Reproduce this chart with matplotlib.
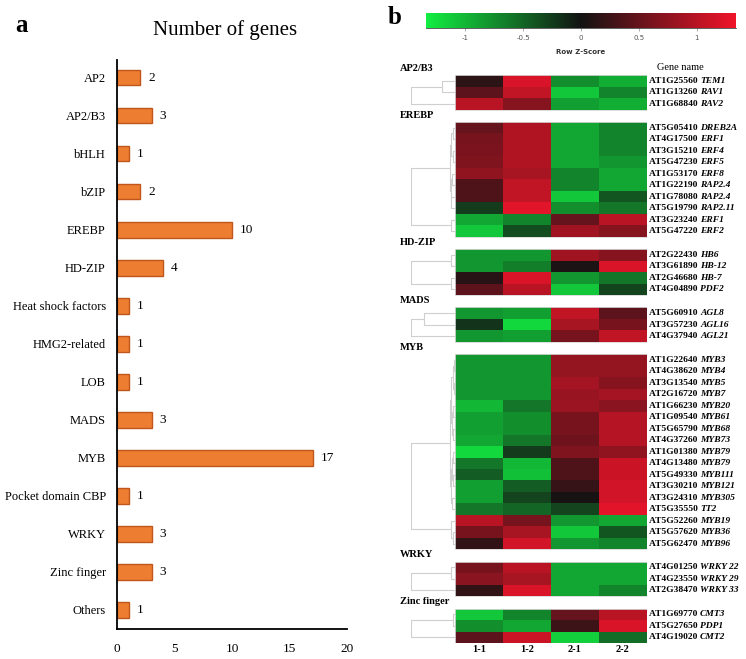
import matplotlib
matplotlib.use("Agg")
import matplotlib.pyplot as plt
import numpy as np
from matplotlib.colors import LinearSegmentedColormap

plt.rcParams['font.family'] = ['Liberation Serif', 'DejaVu Serif']

# ---------------- data: panel a ----------------
families = ["AP2", "AP2/B3", "bHLH", "bZIP", "EREBP", "HD-ZIP", "Heat shock factors",
            "HMG2-related", "LOB", "MADS", "MYB", "Pocket domain CBP", "WRKY",
            "Zinc finger", "Others"]
counts = [2, 3, 1, 2, 10, 4, 1, 1, 1, 3, 17, 1, 3, 3, 1]
xticks_a = [0, 5, 10, 15, 20]

# ---------------- data: panel b ----------------
samples = ["1-1", "1-2", "2-1", "2-2"]
groups = ["AP2/B3", "EREBP", "HD-ZIP", "MADS", "MYB", "WRKY", "Zinc finger"]
ids_ap2b3 = ["AT1G25560", "AT1G13260", "AT1G68840"]
names_ap2b3 = ["TEM1", "RAV1", "RAV2"]
z_ap2b3 = [[0.15, 1.2, -0.75, -0.95], [0.45, 1.05, -1.1, -0.7], [1.0, 0.7, -0.85, -0.95]]

ids_erebp = ["AT5G05410", "AT4G17500", "AT3G15210", "AT5G47230", "AT1G53170",
             "AT1G22190", "AT1G78080", "AT5G19790", "AT3G23240", "AT5G47220"]
names_erebp = ["DREB2A", "ERF1", "ERF4", "ERF5", "ERF8", "RAP2.4", "RAP2.4",
               "RAP2.11", "ERF1", "ERF2"]
z_erebp = [[0.5, 0.95, -0.9, -0.7], [0.6, 0.95, -0.9, -0.7], [0.62, 0.95, -0.9, -0.7],
           [0.65, 0.95, -0.9, -0.8], [0.75, 0.9, -0.7, -0.9], [0.35, 1.05, -0.7, -0.9],
           [0.35, 1.05, -1.1, -0.4], [-0.25, 1.25, -0.75, -0.6], [-0.9, -0.7, 0.5, 1.0],
           [-1.1, -0.35, 0.85, 0.7]]

ids_hdzip = ["AT2G22430", "AT3G61890", "AT2G46680", "AT4G04890"]
names_hdzip = ["HB6", "HB-12", "HB-7", "PDF2"]
z_hdzip = [[-0.8, -0.8, 0.85, 0.7], [-0.8, -0.65, 0.05, 1.2], [0.12, 1.2, -0.8, -0.6],
           [0.45, 1.0, -1.1, -0.3]]

ids_mads = ["AT5G60910", "AT3G57230", "AT4G37940"]
names_mads = ["AGL8", "AGL16", "AGL21"]
z_mads = [[-0.8, -0.85, 1.05, 0.45], [-0.2, -1.2, 0.9, 0.6], [-0.8, -0.85, 0.6, 1.05]]

ids_myb = ["AT1G22640", "AT4G38620", "AT3G13540", "AT2G16720", "AT1G66230",
           "AT1G09540", "AT5G65790", "AT4G37260", "AT1G01380", "AT4G13480",
           "AT5G49330", "AT3G30210", "AT3G24310", "AT5G35550", "AT5G52260",
           "AT5G57620", "AT5G62470"]
names_myb = ["MYB3", "MYB4", "MYB5", "MYB7", "MYB20", "MYB61", "MYB68", "MYB73",
             "MYB79", "MYB79", "MYB111", "MYB121", "MYB305", "TT2", "MYB19",
             "MYB36", "MYB96"]
z_myb = [[-0.8, -0.8, 0.78, 0.78], [-0.8, -0.8, 0.78, 0.78], [-0.8, -0.8, 0.88, 0.7],
         [-0.8, -0.8, 0.8, 0.88], [-1.0, -0.6, 0.82, 0.72], [-0.85, -0.75, 0.6, 0.98],
         [-0.85, -0.75, 0.6, 0.98], [-0.9, -0.6, 0.55, 0.98], [-1.2, -0.25, 0.65, 0.75],
         [-0.6, -1.0, 0.35, 1.1], [-0.45, -1.05, 0.35, 1.1], [-0.85, -0.45, 0.2, 1.15],
         [-0.85, -0.3, 0.03, 1.15], [-0.6, -0.5, -0.3, 1.25], [1.0, 0.6, -0.8, -0.9],
         [0.6, 0.9, -1.1, -0.4], [0.18, 1.15, -0.8, -0.7]]

ids_wrky = ["AT4G01250", "AT4G23550", "AT2G38470"]
names_wrky = ["WRKY 22", "WRKY 29", "WRKY 33"]
z_wrky = [[0.6, 1.0, -0.9, -0.9], [0.72, 0.9, -0.9, -0.9], [0.18, 1.2, -0.9, -0.7]]

ids_zinc = ["AT1G69770", "AT5G27650", "AT4G19020"]
names_zinc = ["CMT3", "PDP1", "CMT2"]
z_zinc = [[-1.1, -0.7, 0.5, 1.0], [-0.75, -0.9, 0.25, 1.2], [0.45, 1.1, -1.15, -0.55]]

# dendrogram trees per group: leaf = row index, node = (left, right, height)
trees = [
    ((0, 1, 0.3), 2, 1.0),
    ((((0, 1, 0.05), (2, 3, 0.05), 0.08), ((4, 5, 0.06), (6, 7, 0.08), 0.1), 0.12), (8, 9, 0.1), 1.0),
    ((0, 1, 0.1), (2, 3, 0.1), 1.0),
    ((0, 1, 0.7), 2, 1.0),
    (((((0, 1, 0.03), (2, 3, 0.03), 0.05), ((4, 5, 0.04), (6, 7, 0.04), 0.06), 0.08),
      (((8, 9, 0.05), (10, 11, 0.05), 0.07), (12, 13, 0.06), 0.09), 0.11),
     (14, (15, 16, 0.05), 0.1), 1.0),
    ((0, 1, 0.1), 2, 1.0),
    ((0, 1, 0.05), 2, 1.0),
]

group_ids = [ids_ap2b3, ids_erebp, ids_hdzip, ids_mads, ids_myb, ids_wrky, ids_zinc]
group_names = [names_ap2b3, names_erebp, names_hdzip, names_mads, names_myb, names_wrky, names_zinc]
group_z = [z_ap2b3, z_erebp, z_hdzip, z_mads, z_myb, z_wrky, z_zinc]

# ---------------- figure ----------------
W, H = 746, 659
fig = plt.figure(figsize=(W / 100, H / 100), dpi=100)

def fx(px):
    return px / W

def fy(py):
    return 1 - py / H

# panel a
axa = fig.add_axes([fx(117), fy(629), fx(347) - fx(117), fy(60) - fy(629)])
bar_color = "#ED7D31"
edge_color = "#C0561A"
ypos = np.arange(len(families))
axa.barh(ypos, counts, height=0.4, color=bar_color, edgecolor=edge_color, linewidth=1.0)
for y, c in zip(ypos, counts):
    axa.text(c + 0.7, y, str(c), va="center", ha="left", fontsize=9.5)
axa.set_yticks(ypos)
axa.set_yticklabels(families, fontsize=9)
axa.set_ylim(len(families) - 0.5, -0.47)
axa.set_xlim(0, 20)
axa.set_xticks(xticks_a)
axa.set_xticklabels([str(v) for v in xticks_a], fontsize=9.5)
axa.tick_params(axis="both", length=0, pad=8)
axa.tick_params(axis="x", pad=10)
for s in ["top", "right"]:
    axa.spines[s].set_visible(False)
for s in ["left", "bottom"]:
    axa.spines[s].set_linewidth(1.3)
fig.text(fx(225), fy(30), "Number of genes", ha="center", va="center", fontsize=15)
fig.text(fx(15), fy(25), "a", ha="left", va="center", fontsize=18, fontweight="bold")
fig.text(fx(388), fy(17), "b", ha="left", va="center", fontsize=18, fontweight="bold")

# panel b
cmap = LinearSegmentedColormap.from_list("gbr", ["#12EE42", "#131313", "#F0142A"])
vmin, vmax = -1.34, 1.34
gap = 1.07
top_px, bot_px = 62.75, 643
n_rows = sum(len(g) for g in group_ids)
total = n_rows + gap * len(groups)

axh = fig.add_axes([fx(455), fy(bot_px), fx(647) - fx(455), fy(top_px) - fy(bot_px)])
axd = fig.add_axes([fx(411), fy(bot_px), fx(455) - fx(411), fy(top_px) - fy(bot_px)])
for ax in (axh, axd):
    ax.set_ylim(total, 0)
    ax.axis("off")
axh.set_xlim(0, 4)
axd.set_xlim(0, 1)

dcol = "#CFCFCF"

def draw_tree(node, start):
    if isinstance(node, int):
        return start + node + 0.5, 1.0
    l, r, h = node
    yl, xl = draw_tree(l, start)
    yr, xr = draw_tree(r, start)
    xn = 1.0 - h
    axd.plot([xl, xn, xn, xr], [yl, yl, yr, yr], color=dcol, lw=0.8, solid_capstyle="butt")
    return (yl + yr) / 2, xn

y0 = 0.0
for gi, gname in enumerate(groups):
    y0 += gap
    z = np.array(group_z[gi])
    n = z.shape[0]
    yedges = y0 + np.arange(n + 1)
    axh.pcolormesh(np.arange(5), yedges, z, cmap=cmap, vmin=vmin, vmax=vmax, shading="flat")
    axh.plot([0, 4, 4, 0, 0], [y0, y0, y0 + n, y0 + n, y0], color="#D8D8D8", lw=0.6)
    ylab_px = top_px + (y0 - gap * 0.55) / total * (bot_px - top_px)
    fig.text(fx(400), fy(ylab_px), gname, ha="left", va="center", fontsize=7.5, fontweight="bold")
    for k in range(n):
        t1 = axh.text(4.05, y0 + k + 0.5, group_ids[gi][k] + " ", ha="left", va="center",
                      fontsize=6.8, fontweight="bold")
        axh.annotate(group_names[gi][k], xy=(1, 0), xycoords=t1, ha="left", va="bottom",
                     fontsize=6.8, fontweight="bold", fontstyle="italic")
    draw_tree(trees[gi], y0)
    y0 += n

fig.text(fx(680), fy(67), "Gene name", ha="center", va="center", fontsize=7.5)
for i, s in enumerate(samples):
    fig.text(fx(455 + 24 + 48 * i), fy(649), s, ha="center", va="center", fontsize=7.5,
             fontweight="bold")

# colorbar
axc = fig.add_axes([fx(426), fy(28), fx(736) - fx(426), fy(13) - fy(28)])
grad = np.linspace(vmin, vmax, 256).reshape(1, -1)
axc.imshow(grad, aspect="auto", cmap=cmap, vmin=vmin, vmax=vmax,
           extent=[vmin, vmax, 0, 1])
axc.set_xlim(vmin, vmax)
axc.set_yticks([])
cb_ticks = [-1, -0.5, 0, 0.5, 1]
axc.set_xticks(cb_ticks)
axc.set_xticklabels(["-1", "-0.5", "0", "0.5", "1"], fontsize=5, color="#555555",
                    family="DejaVu Sans")
axc.tick_params(axis="x", length=2, width=0.5, color="#888888", pad=3)
for s in ["top", "left", "right"]:
    axc.spines[s].set_visible(False)
axc.spines["bottom"].set_linewidth(0.6)
axc.spines["bottom"].set_color("#444444")
fig.text(fx(581), fy(52), "Row Z-Score", ha="center", va="center", fontsize=5,
         family="DejaVu Sans", fontweight="bold", color="#333333")

fig.savefig("out.png", dpi=100)
